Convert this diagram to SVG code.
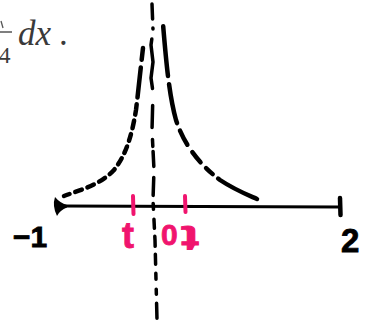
<svg xmlns="http://www.w3.org/2000/svg" width="366" height="322" viewBox="0 0 366 322">
<style>
.ink{fill:none;stroke:#000;stroke-linecap:round;stroke-linejoin:round}
.pink{fill:none;stroke:#f0146e;stroke-linecap:round;stroke-width:4}
.hand{font-family:"Liberation Sans","DejaVu Sans",sans-serif;font-weight:700}
.lbl{fill:#000;stroke:#000;stroke-width:0.8}
.plbl{fill:#f0146e;stroke:#f0146e;stroke-width:0.8}
.tex{font-family:"Liberation Serif","DejaVu Serif",serif;fill:#3a3a3a}
</style>
<rect width="366" height="322" fill="#fff"/>
<g id="formula">
<path d="M1,21 L3,28" stroke="#555" stroke-width="1.3" fill="none"/>
<line x1="0" y1="32" x2="12" y2="32" stroke="#3a3a3a" stroke-width="1.3"/>
<text class="tex" x="-1" y="63" font-size="23">4</text>
<text class="tex" x="18" y="45" font-size="35" font-style="italic">dx</text>
<text class="tex" x="59" y="45" font-size="35">.</text>
</g>
<g id="connectors">
<g id="axis">
<path class="ink" stroke-width="3" d="M62,206 L200,206.5 L340,207"/>
<path d="M55,197 Q52,206 57,216 Q60,210 67,207.5 L67,205 Q60,203 55,197 Z" fill="#000"/>
<path class="ink" stroke-width="4.5" d="M340,198 L340.5,215"/>
</g>
<path id="asymptote" class="ink" stroke-width="3.5" stroke-dasharray="15 9 1 10 50 17 22 12 7 5 15 11 18 8 6 10 9 8 10 8 10 9 6 10 5 9" d="M152,4 L153,30 L151,45 L153,62 L151,78 L153,92 L152,130 L154,170 L153,200 L155,240 L156,280 L157,320"/>
<path id="left-curve" class="ink" stroke-width="4.5" stroke-dasharray="6 6 7 6 7 6 7 6 7 6 7 6 7 6 7 6 8 6 10 7 30 8 14 8" d="M64,196 C80,190 100,185 114,170 C126,155 132,135 136,110 C139,85 141,65 143,48"/>
<path id="right-curve" class="ink" stroke-width="4.5" stroke-dasharray="44 7 9 8 13 9 16 8 40 8 50" d="M257,199 C248,195 235,190 220,180 C200,165 184,145 176,120 C169,95 166,60 163,24"/>
</g>
<g id="ticks">
<path class="pink" d="M133,196 L133.5,214"/>
<path class="pink" d="M185,196 L185.5,212"/>
</g>
<g id="labels" class="hand">
<text class="lbl" x="13" y="247" font-size="30">−1</text>
<text class="lbl" x="341" y="252" font-size="33">2</text>
<text class="plbl" x="122" y="248" font-size="36">t</text>
<text class="plbl" x="161" y="245" font-size="30">0</text>
<text class="plbl" x="0" y="0" font-size="36" text-anchor="middle" transform="translate(190 226) rotate(180) scale(1.5 1)">t</text>
</g>
</svg>
